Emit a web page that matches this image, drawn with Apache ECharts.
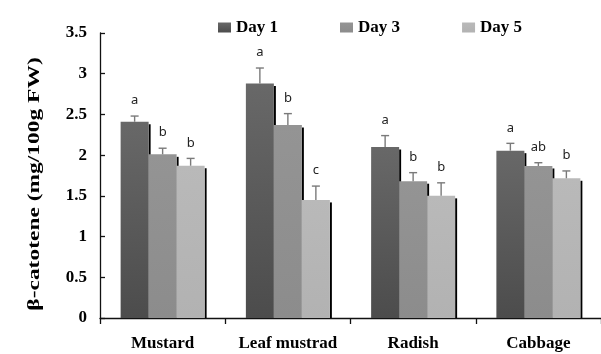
<!DOCTYPE html>
<html><head><meta charset="utf-8">
<script src="https://cdn.jsdelivr.net/npm/echarts@6/dist/echarts.min.js"></script>
<style>html,body{margin:0;padding:0;background:#fff}#c{width:601px;height:354px}</style>
</head><body><div id="c"></div>
<script>
const categories = ['Mustard', 'Leaf mustrad', 'Radish', 'Cabbage'];
const seriesNames = ['Day 1', 'Day 3', 'Day 5'];
const day1 = [2.41, 2.88, 2.10, 2.055];
const day3 = [2.01, 2.37, 1.68, 1.867];
const day5 = [1.87, 1.45, 1.50, 1.716];
const day1Err = [0.07, 0.19, 0.14, 0.09];
const day3Err = [0.075, 0.14, 0.105, 0.04];
const day5Err = [0.09, 0.17, 0.16, 0.09];
const day1Letters = ['a', 'a', 'a', 'a'];
const day3Letters = ['b', 'b', 'b', 'ab'];
const day5Letters = ['b', 'c', 'b', 'b'];
const yTickLabels = ['0', '0.5', '1', '1.5', '2', '2.5', '3', '3.5'];
const yAxisTitle = 'β-catotene (mg/100g FW)';

const BAR_W = 28;
const SERIF = '"Liberation Serif", "Times New Roman", serif';
const colors = [
  {type: 'linear', x: 0, y: 0, x2: 0, y2: 1, colorStops: [{offset: 0, color: '#686868'}, {offset: 1, color: '#4c4c4c'}]},
  {type: 'linear', x: 0, y: 0, x2: 0, y2: 1, colorStops: [{offset: 0, color: '#949494'}, {offset: 1, color: '#8c8c8c'}]},
  {type: 'linear', x: 0, y: 0, x2: 0, y2: 1, colorStops: [{offset: 0, color: '#b9b9b9'}, {offset: 1, color: '#b2b2b2'}]}
];
const vals = [day1, day3, day5];
const errs = [day1Err, day3Err, day5Err];
const letters = [day1Letters, day3Letters, day5Letters];

function barX(api, i, d) {
  const c = api.coord([i, 0]);
  return c[0] - BAR_W * 1.5 + d * BAR_W;
}

const series = [];
// shadows (behind bars)
vals.forEach((v, d) => {
  series.push({
    type: 'custom', name: 'shadow' + d, z: 1, silent: true,
    data: v.map((y, i) => [i, y]),
    renderItem(params, api) {
      const i = api.value(0), y = api.value(1);
      const x = barX(api, i, d) + BAR_W;
      const top = api.coord([i, y])[1] + 2.5;
      const base = api.coord([i, 0])[1];
      return {type: 'rect', shape: {x: x, y: top, width: 2, height: base - top}, style: {fill: '#000'}};
    }
  });
});
// bars
vals.forEach((v, d) => {
  series.push({
    type: 'bar', name: seriesNames[d], data: v, barWidth: BAR_W, barGap: '0%', z: 2,
    itemStyle: {color: colors[d]}, silent: true
  });
});
// error bars + letters
vals.forEach((v, d) => {
  series.push({
    type: 'custom', name: 'err' + d, z: 3, silent: true,
    data: v.map((y, i) => [i, y, errs[d][i]]),
    renderItem(params, api) {
      const i = api.value(0), y = api.value(1), e = api.value(2);
      const cx = barX(api, i, d) + BAR_W / 2;
      const yTop = api.coord([i, y])[1];
      const yErr = api.coord([i, y + e])[1];
      return {type: 'group', children: [
        {type: 'line', shape: {x1: cx, y1: yTop, x2: cx, y2: yErr}, style: {stroke: '#7a7a7a', lineWidth: 1.4}},
        {type: 'line', shape: {x1: cx - 4, y1: yErr, x2: cx + 4, y2: yErr}, style: {stroke: '#7a7a7a', lineWidth: 1.4}},
        {type: 'text', style: {text: letters[d][params.dataIndex], x: cx, y: yErr - 15.5, align: 'center', verticalAlign: 'middle',
          fontSize: 13, fontFamily: '"Noto Sans", sans-serif', fill: '#222'}}
      ]};
    }
  });
});

const chart = echarts.init(document.getElementById('c'), null, {renderer: 'canvas'});
chart.setOption({
  animation: false,
  backgroundColor: '#fff',
  grid: {left: 100, top: 33, width: 504, height: 285, containLabel: false},
  legend: {
    data: seriesNames, left: 213, top: 14, itemWidth: 13, itemHeight: 10, itemGap: 62, icon: 'rect',
    textStyle: {fontFamily: SERIF, fontWeight: 'bold', fontSize: 17, color: '#000'}
  },
  xAxis: {
    type: 'category', data: categories,
    axisLine: {show: true, lineStyle: {color: '#111', width: 1.3}},
    axisTick: {show: true, length: 6, lineStyle: {color: '#111', width: 1.3}},
    axisLabel: {margin: 17, fontFamily: SERIF, fontWeight: 'bold', fontSize: 17, color: '#000', interval: 0},
    splitLine: {show: false}
  },
  yAxis: {
    type: 'value', min: 0, max: 3.5, interval: 0.5,
    axisLine: {show: true, lineStyle: {color: '#111', width: 1.3}},
    axisTick: {show: true, inside: true, length: 5, lineStyle: {color: '#111', width: 1.3}},
    axisLabel: {margin: 13, fontFamily: SERIF, fontWeight: 'bold', fontSize: 17, color: '#000',
      formatter: (val) => yTickLabels[Math.round(val / 0.5)]},
    splitLine: {show: false}
  },
  graphic: [{
    type: 'text', x: 35, y: 184, rotation: Math.PI / 2, scaleX: 1.38, silent: true,
    style: {text: yAxisTitle, fontFamily: SERIF, fontWeight: 'bold', fontSize: 17, fill: '#000', align: 'center', verticalAlign: 'middle'}
  }],
  series: series
});
</script></body></html>
